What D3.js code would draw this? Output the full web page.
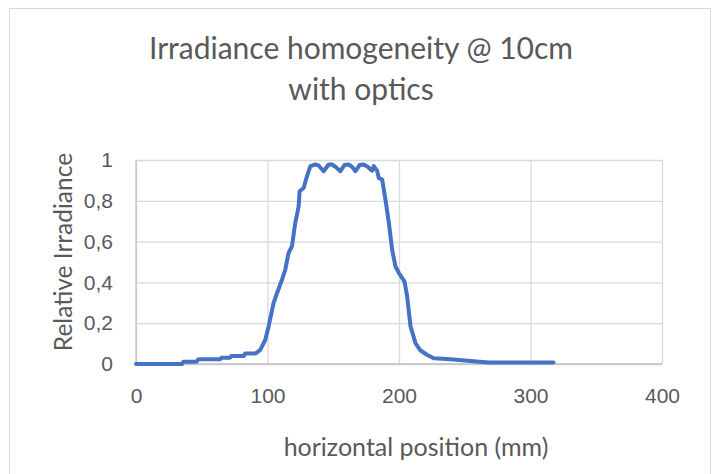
<!DOCTYPE html>
<html>
<head>
<meta charset="utf-8">
<script src="https://cdn.jsdelivr.net/npm/d3@7"></script>
<style>
  body { margin: 0; background: #fff; }
  svg { display: block; font-family: Lato, "Open Sans", sans-serif; }
</style>
</head>
<body>
<div id="chart"></div>
<script>
// horizontal position (mm) and relative irradiance
const positions = [0, 35, 36, 46, 47.5, 64, 65, 71.6, 72.5, 81.8, 83, 90.7, 94.5, 98.3,
  100.8, 104.6, 107.2, 111, 113.5, 116, 118.6, 121.1, 123.7, 124.4, 127.5, 130, 132.6,
  136.4, 139, 142.7, 146.5, 149.1, 152, 155.4, 158.5, 161.8, 164.5, 166.9, 170, 173.2,
  176.5, 179.6, 180.8, 183.4, 184.6, 187.2, 189.7, 192.3, 194.8, 197.3, 199.9, 204.2,
  206.2, 208.8, 212.6, 216.4, 221.5, 226.5, 239.2, 252, 268.4, 317.5];
const irradiance = [0, 0, 0.011, 0.011, 0.023, 0.023, 0.031, 0.031, 0.039, 0.039, 0.051,
  0.051, 0.069, 0.118, 0.183, 0.298, 0.347, 0.413, 0.462, 0.544, 0.577, 0.691, 0.773,
  0.847, 0.863, 0.92, 0.97, 0.978, 0.972, 0.945, 0.978, 0.978, 0.965, 0.945, 0.975,
  0.978, 0.965, 0.945, 0.975, 0.978, 0.965, 0.948, 0.97, 0.947, 0.912, 0.904, 0.806,
  0.691, 0.56, 0.478, 0.446, 0.404, 0.331, 0.183, 0.101, 0.066, 0.044, 0.028, 0.023,
  0.016, 0.007, 0.007];

const xTicks = [0, 100, 200, 300, 400];
const yTicks = [0, 0.2, 0.4, 0.6, 0.8, 1];
const titleLines = ["Irradiance homogeneity @ 10cm", "with optics"];

const width = 715, height = 474;
const plot = { left: 136, right: 662, top: 160, bottom: 364 };

const svg = d3.select("#chart").append("svg")
  .attr("width", width)
  .attr("height", height);

// chart frame
svg.append("rect")
  .attr("x", 9.5).attr("y", 8.5)
  .attr("width", 701).attr("height", 480)
  .attr("fill", "#fff")
  .attr("stroke", "#d9d9d9");

const x = d3.scaleLinear().domain([0, 400]).range([plot.left, plot.right]);
const y = d3.scaleLinear().domain([0, 1]).range([plot.bottom, plot.top]);

// gridlines
svg.append("g")
  .attr("transform", `translate(${plot.left},0)`)
  .call(d3.axisLeft(y).tickValues(yTicks).tickSize(-(plot.right - plot.left)).tickFormat(""))
  .call(g => g.select(".domain").remove())
  .call(g => g.selectAll("line").attr("stroke", "#d9d9d9").attr("stroke-width", 1.3));

svg.append("g")
  .attr("transform", `translate(0,${plot.bottom})`)
  .call(d3.axisBottom(x).tickValues(xTicks).tickSize(-(plot.bottom - plot.top)).tickFormat(""))
  .call(g => g.select(".domain").remove())
  .call(g => g.selectAll("line").attr("stroke", "#d9d9d9").attr("stroke-width", 1.3));

// axis lines
svg.append("line")
  .attr("x1", plot.left).attr("x2", plot.right)
  .attr("y1", plot.bottom).attr("y2", plot.bottom)
  .attr("stroke", "#bfbfbf").attr("stroke-width", 1.3);
svg.append("line")
  .attr("x1", plot.left).attr("x2", plot.left)
  .attr("y1", plot.top).attr("y2", plot.bottom)
  .attr("stroke", "#bfbfbf").attr("stroke-width", 1.3);

// tick labels
const fmt = d => d === 0 || d === 1 ? String(d) : String(d).replace(".", ",");

svg.append("g")
  .attr("transform", `translate(0,${plot.bottom})`)
  .call(d3.axisBottom(x).tickValues(xTicks).tickSize(0).tickPadding(24).tickFormat(d3.format("d")))
  .call(g => g.select(".domain").remove())
  .call(g => g.selectAll("text").attr("fill", "#595959").attr("font-size", 21).attr("font-family", null));

svg.append("g")
  .attr("transform", `translate(${plot.left},0)`)
  .call(d3.axisLeft(y).tickValues(yTicks).tickSize(0).tickPadding(23).tickFormat(fmt))
  .call(g => g.select(".domain").remove())
  .call(g => g.selectAll("text").attr("fill", "#595959").attr("font-size", 21).attr("font-family", null));

// series
const pts = positions.map((p, i) => [p, irradiance[i]]);
svg.append("path")
  .datum(pts)
  .attr("fill", "none")
  .attr("stroke", "#4472c4")
  .attr("stroke-width", 4)
  .attr("stroke-linejoin", "round")
  .attr("stroke-linecap", "round")
  .attr("d", d3.line().x(d => x(d[0])).y(d => y(d[1])));

// title
svg.append("text")
  .attr("text-anchor", "middle")
  .attr("fill", "#595959")
  .attr("font-size", 30)
  .selectAll("tspan")
  .data(titleLines)
  .join("tspan")
  .attr("x", 361)
  .attr("y", (d, i) => 59 + i * 41)
  .text(d => d);

// axis titles
svg.append("text")
  .attr("x", 416).attr("y", 456)
  .attr("text-anchor", "middle")
  .attr("fill", "#595959")
  .attr("font-size", 25)
  .text("horizontal position (mm)");

svg.append("text")
  .attr("transform", "translate(72,252) rotate(-90)")
  .attr("text-anchor", "middle")
  .attr("fill", "#595959")
  .attr("font-size", 24.5)
  .text("Relative Irradiance");
</script>
</body>
</html>
